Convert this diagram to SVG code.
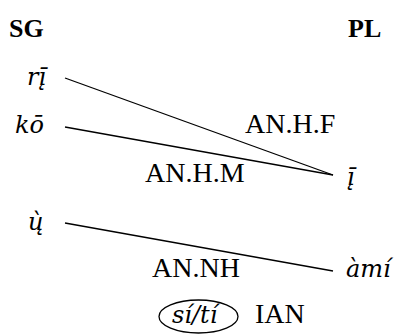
<svg xmlns="http://www.w3.org/2000/svg" width="398" height="335" viewBox="0 0 398 335">
<defs>
<style>
.c{stroke:#000;stroke-width:1.3;fill:none}
</style>
</defs>
<rect width="398" height="335" fill="#fff"/>
<g id="connectors">
<line class="c" x1="65" y1="78" x2="333" y2="175"/>
<line class="c" x1="65" y1="127" x2="333" y2="175"/>
<line class="c" x1="65" y1="223" x2="333" y2="271"/>
</g>
<g id="head-sg"><text x="9" y="37" font-family="Liberation Serif" font-weight="bold" font-size="26">SG</text></g>
<g id="head-pl"><text x="348" y="37" font-family="Liberation Serif" font-weight="bold" font-size="26">PL</text></g>
<g id="n-ri"><text x="27" y="85" font-family="DejaVu Serif" font-style="italic" font-size="24">rį̄</text></g>
<g id="n-ko"><text x="15" y="133" font-family="DejaVu Serif" font-style="italic" font-size="24">kō</text></g>
<g id="n-u"><text x="28" y="230" font-family="DejaVu Serif" font-style="italic" font-size="24">ų̀</text></g>
<g id="n-i"><text x="347" y="185" font-family="DejaVu Serif" font-style="italic" font-size="24">į̄</text></g>
<g id="n-ami"><text x="346" y="277" font-family="DejaVu Serif" font-style="italic" font-size="24">àmí</text></g>
<g id="l-anhf"><text x="245" y="133" font-family="Liberation Serif" font-size="28">AN.H.F</text></g>
<g id="l-anhm"><text x="145" y="182" font-family="Liberation Serif" font-size="28">AN.H.M</text></g>
<g id="l-annh"><text x="152" y="277" font-family="Liberation Serif" font-size="28">AN.NH</text></g>
<g id="n-siti">
<ellipse class="c" cx="198.5" cy="316.5" rx="39.5" ry="16.5"/>
<text x="172" y="323" font-family="DejaVu Serif" font-style="italic" font-size="24">sí/tí</text>
</g>
<g id="l-ian"><text x="255" y="323" font-family="Liberation Serif" font-size="28">IAN</text></g>
</svg>
